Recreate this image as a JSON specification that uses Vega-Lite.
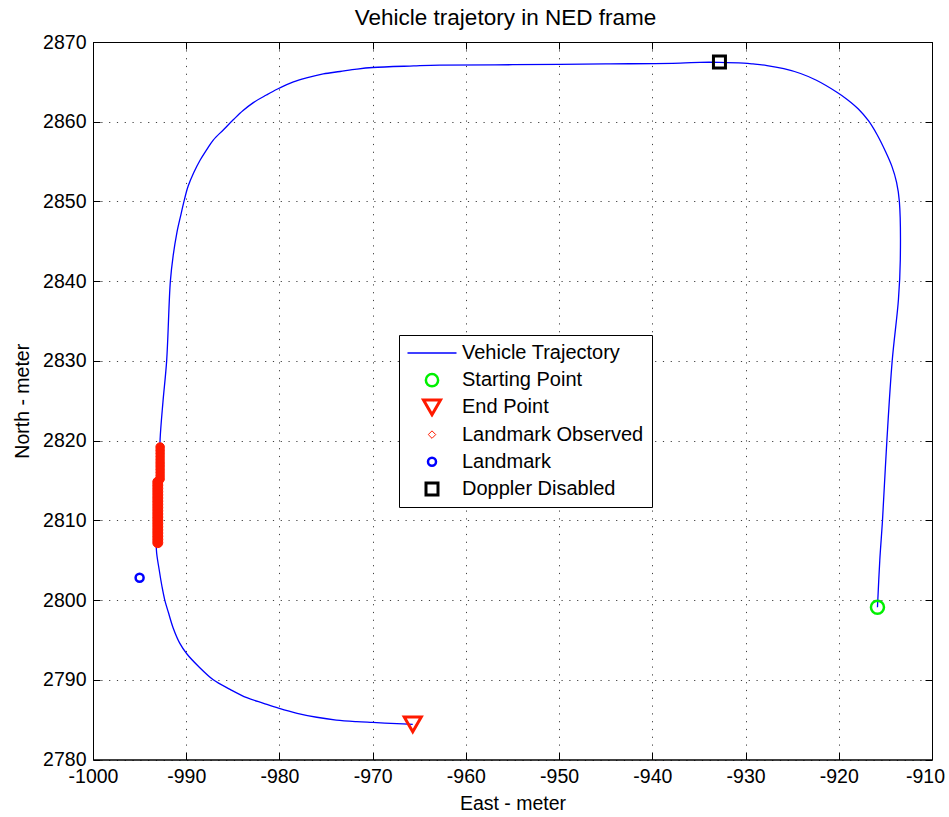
{
  "$schema": "https://vega.github.io/schema/vega-lite/v6.json",
  "width": 839,
  "height": 717.5,
  "autosize": {"type": "none"},
  "padding": {"left": 93, "top": 42, "right": 17, "bottom": 57.5},
  "background": "white",
  "title": {
    "text": "Vehicle trajetory in NED frame",
    "font": "Liberation Sans",
    "fontSize": 22.5,
    "fontWeight": "normal",
    "color": "black",
    "baseline": "bottom",
    "offset": 13,
    "dy": 33,
    "dx": -7
  },
  "config": {
    "font": "Liberation Sans",
    "view": {"stroke": "black", "strokeWidth": 1},
    "axis": {
      "domainColor": "black",
      "domainWidth": 1,
      "tickColor": "black",
      "tickWidth": 1,
      "tickSize": -7,
      "labelFont": "Liberation Sans",
      "labelFontSize": 19.5,
      "labelColor": "black",
      "titleFont": "Liberation Sans",
      "titleFontSize": 19.5,
      "titleFontWeight": "normal",
      "titleColor": "black",
      "gridColor": "#000000",
      "gridOpacity": 0.75,
      "gridWidth": 1,
      "gridDash": [1.2, 6.6]
    }
  },
  "data": {
    "values": [
      {"series": "Vehicle Trajectory", "step": 0, "east": -915.85, "north": 2799.1},
      {"series": "Vehicle Trajectory", "step": 1, "east": -915.6, "north": 2805.0},
      {"series": "Vehicle Trajectory", "step": 2, "east": -915.31, "north": 2810.0},
      {"series": "Vehicle Trajectory", "step": 3, "east": -914.84, "north": 2820.0},
      {"series": "Vehicle Trajectory", "step": 4, "east": -914.27, "north": 2830.0},
      {"series": "Vehicle Trajectory", "step": 5, "east": -913.6, "north": 2837.7},
      {"series": "Vehicle Trajectory", "step": 6, "east": -913.4, "north": 2842.7},
      {"series": "Vehicle Trajectory", "step": 7, "east": -913.5, "north": 2850.0},
      {"series": "Vehicle Trajectory", "step": 8, "east": -913.8, "north": 2852.4},
      {"series": "Vehicle Trajectory", "step": 9, "east": -914.3, "north": 2854.4},
      {"series": "Vehicle Trajectory", "step": 10, "east": -915.0, "north": 2856.3},
      {"series": "Vehicle Trajectory", "step": 11, "east": -915.9, "north": 2858.4},
      {"series": "Vehicle Trajectory", "step": 12, "east": -916.8, "north": 2860.1},
      {"series": "Vehicle Trajectory", "step": 13, "east": -917.9, "north": 2861.6},
      {"series": "Vehicle Trajectory", "step": 14, "east": -919.1, "north": 2862.8},
      {"series": "Vehicle Trajectory", "step": 15, "east": -920.2, "north": 2863.7},
      {"series": "Vehicle Trajectory", "step": 16, "east": -922.4, "north": 2865.2},
      {"series": "Vehicle Trajectory", "step": 17, "east": -924.1, "north": 2866.05},
      {"series": "Vehicle Trajectory", "step": 18, "east": -925.9, "north": 2866.65},
      {"series": "Vehicle Trajectory", "step": 19, "east": -927.7, "north": 2867.05},
      {"series": "Vehicle Trajectory", "step": 20, "east": -929.2, "north": 2867.25},
      {"series": "Vehicle Trajectory", "step": 21, "east": -930.2, "north": 2867.35},
      {"series": "Vehicle Trajectory", "step": 22, "east": -932.8, "north": 2867.45},
      {"series": "Vehicle Trajectory", "step": 23, "east": -934.9, "north": 2867.45},
      {"series": "Vehicle Trajectory", "step": 24, "east": -937.0, "north": 2867.35},
      {"series": "Vehicle Trajectory", "step": 25, "east": -945.0, "north": 2867.25},
      {"series": "Vehicle Trajectory", "step": 26, "east": -955.0, "north": 2867.15},
      {"series": "Vehicle Trajectory", "step": 27, "east": -962.8, "north": 2867.1},
      {"series": "Vehicle Trajectory", "step": 28, "east": -965.6, "north": 2867.0},
      {"series": "Vehicle Trajectory", "step": 29, "east": -970.0, "north": 2866.8},
      {"series": "Vehicle Trajectory", "step": 30, "east": -971.7, "north": 2866.6},
      {"series": "Vehicle Trajectory", "step": 31, "east": -973.5, "north": 2866.3},
      {"series": "Vehicle Trajectory", "step": 32, "east": -975.3, "north": 2866.0},
      {"series": "Vehicle Trajectory", "step": 33, "east": -977.1, "north": 2865.5},
      {"series": "Vehicle Trajectory", "step": 34, "east": -978.5, "north": 2865.0},
      {"series": "Vehicle Trajectory", "step": 35, "east": -980.2, "north": 2864.1},
      {"series": "Vehicle Trajectory", "step": 36, "east": -981.4, "north": 2863.35},
      {"series": "Vehicle Trajectory", "step": 37, "east": -982.8, "north": 2862.4},
      {"series": "Vehicle Trajectory", "step": 38, "east": -983.9, "north": 2861.4},
      {"series": "Vehicle Trajectory", "step": 39, "east": -984.9, "north": 2860.3},
      {"series": "Vehicle Trajectory", "step": 40, "east": -986.0, "north": 2859.0},
      {"series": "Vehicle Trajectory", "step": 41, "east": -987.1, "north": 2857.7},
      {"series": "Vehicle Trajectory", "step": 42, "east": -987.8, "north": 2856.5},
      {"series": "Vehicle Trajectory", "step": 43, "east": -988.5, "north": 2855.2},
      {"series": "Vehicle Trajectory", "step": 44, "east": -989.2, "north": 2853.6},
      {"series": "Vehicle Trajectory", "step": 45, "east": -989.8, "north": 2851.9},
      {"series": "Vehicle Trajectory", "step": 46, "east": -990.2, "north": 2850.2},
      {"series": "Vehicle Trajectory", "step": 47, "east": -990.6, "north": 2848.2},
      {"series": "Vehicle Trajectory", "step": 48, "east": -991.0, "north": 2846.1},
      {"series": "Vehicle Trajectory", "step": 49, "east": -991.4, "north": 2843.2},
      {"series": "Vehicle Trajectory", "step": 50, "east": -991.7, "north": 2840.0},
      {"series": "Vehicle Trajectory", "step": 51, "east": -992.1, "north": 2830.0},
      {"series": "Vehicle Trajectory", "step": 52, "east": -992.5, "north": 2824.8},
      {"series": "Vehicle Trajectory", "step": 53, "east": -992.8, "north": 2820.2},
      {"series": "Vehicle Trajectory", "step": 54, "east": -992.9, "north": 2815.0},
      {"series": "Vehicle Trajectory", "step": 55, "east": -993.1, "north": 2810.0},
      {"series": "Vehicle Trajectory", "step": 56, "east": -993.2, "north": 2806.3},
      {"series": "Vehicle Trajectory", "step": 57, "east": -992.9, "north": 2803.8},
      {"series": "Vehicle Trajectory", "step": 58, "east": -992.6, "north": 2801.7},
      {"series": "Vehicle Trajectory", "step": 59, "east": -992.3, "north": 2800.0},
      {"series": "Vehicle Trajectory", "step": 60, "east": -991.9, "north": 2798.4},
      {"series": "Vehicle Trajectory", "step": 61, "east": -991.4, "north": 2796.5},
      {"series": "Vehicle Trajectory", "step": 62, "east": -990.7, "north": 2794.6},
      {"series": "Vehicle Trajectory", "step": 63, "east": -989.9, "north": 2793.2},
      {"series": "Vehicle Trajectory", "step": 64, "east": -988.7, "north": 2791.7},
      {"series": "Vehicle Trajectory", "step": 65, "east": -987.1, "north": 2790.0},
      {"series": "Vehicle Trajectory", "step": 66, "east": -985.3, "north": 2788.8},
      {"series": "Vehicle Trajectory", "step": 67, "east": -983.5, "north": 2787.75},
      {"series": "Vehicle Trajectory", "step": 68, "east": -981.7, "north": 2787.05},
      {"series": "Vehicle Trajectory", "step": 69, "east": -980.1, "north": 2786.45},
      {"series": "Vehicle Trajectory", "step": 70, "east": -978.1, "north": 2785.8},
      {"series": "Vehicle Trajectory", "step": 71, "east": -976.0, "north": 2785.3},
      {"series": "Vehicle Trajectory", "step": 72, "east": -973.9, "north": 2784.95},
      {"series": "Vehicle Trajectory", "step": 73, "east": -971.7, "north": 2784.75},
      {"series": "Vehicle Trajectory", "step": 74, "east": -970.0, "north": 2784.65},
      {"series": "Vehicle Trajectory", "step": 75, "east": -967.4, "north": 2784.5},
      {"series": "Vehicle Trajectory", "step": 76, "east": -965.7, "north": 2784.4},

      {"series": "Landmark Observed", "east": -992.8, "north": 2819.2},
      {"series": "Landmark Observed", "east": -992.8, "north": 2818.8},
      {"series": "Landmark Observed", "east": -992.8, "north": 2818.4},
      {"series": "Landmark Observed", "east": -992.8, "north": 2818.0},
      {"series": "Landmark Observed", "east": -992.8, "north": 2817.6},
      {"series": "Landmark Observed", "east": -992.8, "north": 2817.2},
      {"series": "Landmark Observed", "east": -992.8, "north": 2816.8},
      {"series": "Landmark Observed", "east": -992.8, "north": 2816.4},
      {"series": "Landmark Observed", "east": -992.8, "north": 2816.0},
      {"series": "Landmark Observed", "east": -992.8, "north": 2815.6},
      {"series": "Landmark Observed", "east": -992.8, "north": 2815.2},
      {"series": "Landmark Observed", "east": -993.05, "north": 2814.8},
      {"series": "Landmark Observed", "east": -993.05, "north": 2814.4},
      {"series": "Landmark Observed", "east": -993.05, "north": 2814.0},
      {"series": "Landmark Observed", "east": -993.05, "north": 2813.6},
      {"series": "Landmark Observed", "east": -993.05, "north": 2813.2},
      {"series": "Landmark Observed", "east": -993.05, "north": 2812.8},
      {"series": "Landmark Observed", "east": -993.05, "north": 2812.4},
      {"series": "Landmark Observed", "east": -993.05, "north": 2812.0},
      {"series": "Landmark Observed", "east": -993.05, "north": 2811.6},
      {"series": "Landmark Observed", "east": -993.05, "north": 2811.2},
      {"series": "Landmark Observed", "east": -993.05, "north": 2810.8},
      {"series": "Landmark Observed", "east": -993.05, "north": 2810.4},
      {"series": "Landmark Observed", "east": -993.05, "north": 2810.0},
      {"series": "Landmark Observed", "east": -993.05, "north": 2809.6},
      {"series": "Landmark Observed", "east": -993.05, "north": 2809.2},
      {"series": "Landmark Observed", "east": -993.05, "north": 2808.8},
      {"series": "Landmark Observed", "east": -993.05, "north": 2808.4},
      {"series": "Landmark Observed", "east": -993.05, "north": 2808.0},
      {"series": "Landmark Observed", "east": -993.05, "north": 2807.6},
      {"series": "Landmark Observed", "east": -993.05, "north": 2807.2},

      {"series": "Landmark", "east": -995.0, "north": 2802.8},
      {"series": "Starting Point", "east": -915.85, "north": 2799.1},
      {"series": "End Point", "east": -965.7, "north": 2784.4},
      {"series": "Doppler Disabled", "east": -932.8, "north": 2867.5}
    ]
  },
  "resolve": {"axis": {"x": "independent", "y": "independent"}},
  "layer": [
    {
      "transform": [{"filter": "datum.series === 'Vehicle Trajectory'"}],
      "mark": {"type": "line", "strokeWidth": 1.3, "interpolate": "catmull-rom"},
      "encoding": {
        "x": {
          "field": "east",
          "type": "quantitative",
          "scale": {"domain": [-1000, -910], "nice": false, "zero": false},
          "axis": {
            "orient": "bottom",
            "title": "East - meter",
            "values": [-1000, -990, -980, -970, -960, -950, -940, -930, -920, -910],
            "labelExpr": "'' + datum.value",
            "labelPadding": 15,
            "labelOffset": {"condition": {"test": "datum.value > -915", "value": -7}, "value": 0},
            "titlePadding": 8,
            "grid": true,
            "labelFlush": false
          }
        },
        "y": {
          "field": "north",
          "type": "quantitative",
          "scale": {"domain": [2780, 2870], "nice": false, "zero": false},
          "axis": {
            "orient": "left",
            "title": "North - meter",
            "values": [2780, 2790, 2800, 2810, 2820, 2830, 2840, 2850, 2860, 2870],
            "labelExpr": "'' + datum.value",
            "labelPadding": 14,
            "titlePadding": 10,
            "grid": true,
            "labelFlush": false
          }
        },
        "order": {"field": "step", "type": "quantitative"},
        "stroke": {
          "field": "series",
          "type": "nominal",
          "scale": {
            "domain": ["Vehicle Trajectory", "Starting Point", "End Point", "Landmark Observed", "Landmark", "Doppler Disabled"],
            "range": ["#0000ff", "#00f000", "#ff1a00", "#ff1a00", "#0000ff", "#000000"]
          },
          "legend": {
            "title": null,
            "orient": "none",
            "legendX": 306,
            "legendY": 293,
            "direction": "vertical",
            "padding": 8,
            "strokeColor": "black",
            "fillColor": "white",
            "symbolSize": 2401,
            "symbolStrokeWidth": 1.5,
            "symbolOffset": 15,
            "clipHeight": 20,
            "rowPadding": 7.2,
            "labelOffset": 20,
            "labelFont": "Liberation Sans",
            "labelFontSize": 20,
            "labelColor": "black",
            "labelLimit": 400,
            "encode": {
              "symbols": {
                "update": {
                  "shape": {"signal": "datum.value === 'Vehicle Trajectory' ? 'stroke' : datum.value === 'End Point' ? 'triangle-down' : datum.value === 'Landmark Observed' ? 'diamond' : datum.value === 'Doppler Disabled' ? 'square' : 'circle'"},
                  "size": {"signal": "datum.value === 'Vehicle Trajectory' ? 2401 : datum.value === 'Starting Point' ? 150 : datum.value === 'End Point' ? 290 : datum.value === 'Landmark Observed' ? 56 : datum.value === 'Landmark' ? 64 : 144"},
                  "strokeWidth": {"signal": "datum.value === 'Vehicle Trajectory' ? 1.5 : datum.value === 'Landmark Observed' ? 1 : datum.value === 'End Point' || datum.value === 'Doppler Disabled' ? 3 : 2.5"},
                  "fill": {"value": "transparent"},
                  "opacity": {"value": 1}
                }
              }
            }
          }
        }
      }
    },
    {
      "transform": [{"filter": "datum.series === 'Landmark Observed'"}],
      "mark": {"type": "point", "shape": "circle", "filled": true, "fill": "#ff1a00", "strokeWidth": 1, "opacity": 1},
      "encoding": {
        "x": {"field": "east", "type": "quantitative", "axis": null},
        "y": {"field": "north", "type": "quantitative", "axis": null},
        "size": {"condition": {"test": "datum.north > 2815", "value": 72}, "value": 100},
        "stroke": {"field": "series", "type": "nominal"}
      }
    },
    {
      "transform": [{"filter": "datum.series === 'Landmark'"}],
      "mark": {"type": "point", "shape": "circle", "filled": false, "size": 64, "strokeWidth": 2.5, "opacity": 1},
      "encoding": {
        "x": {"field": "east", "type": "quantitative", "axis": null},
        "y": {"field": "north", "type": "quantitative", "axis": null},
        "stroke": {"field": "series", "type": "nominal"}
      }
    },
    {
      "transform": [{"filter": "datum.series === 'Starting Point'"}],
      "mark": {"type": "point", "shape": "circle", "filled": false, "size": 170, "strokeWidth": 2.5, "opacity": 1},
      "encoding": {
        "x": {
          "field": "east",
          "type": "quantitative",
          "axis": {
            "orient": "top",
            "title": null,
            "labels": false,
            "grid": false,
            "values": [-1000, -990, -980, -970, -960, -950, -940, -930, -920, -910]
          }
        },
        "y": {
          "field": "north",
          "type": "quantitative",
          "axis": {
            "orient": "right",
            "title": null,
            "labels": false,
            "grid": false,
            "values": [2780, 2790, 2800, 2810, 2820, 2830, 2840, 2850, 2860, 2870]
          }
        },
        "stroke": {"field": "series", "type": "nominal"}
      }
    },
    {
      "transform": [{"filter": "datum.series === 'End Point'"}],
      "mark": {"type": "point", "shape": "triangle-down", "filled": false, "size": 290, "strokeWidth": 3, "opacity": 1},
      "encoding": {
        "x": {"field": "east", "type": "quantitative", "axis": null},
        "y": {"field": "north", "type": "quantitative", "axis": null},
        "stroke": {"field": "series", "type": "nominal"}
      }
    },
    {
      "transform": [{"filter": "datum.series === 'Doppler Disabled'"}],
      "mark": {"type": "point", "shape": "square", "filled": false, "size": 144, "strokeWidth": 3, "opacity": 1},
      "encoding": {
        "x": {"field": "east", "type": "quantitative", "axis": null},
        "y": {"field": "north", "type": "quantitative", "axis": null},
        "stroke": {"field": "series", "type": "nominal"}
      }
    }
  ]
}
